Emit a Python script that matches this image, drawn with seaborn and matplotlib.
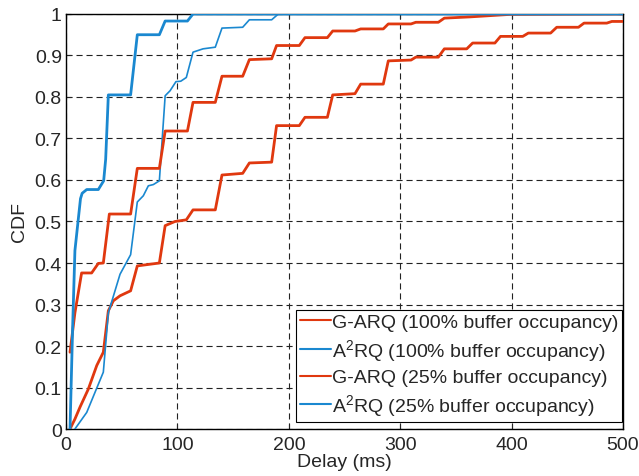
import numpy as np
import pandas as pd
import matplotlib
matplotlib.use("Agg")
import matplotlib.pyplot as plt
from matplotlib.ticker import FormatStrFormatter
import seaborn as sns

# =============================
# DATA
# =============================
garq100_x = [3.6, 8, 12.6, 20, 27.6, 33.5, 38, 42.5, 48.5, 58, 64, 83.8, 89, 97.8, 108, 114,
             134, 140, 158.6, 164.6, 184.6, 189, 209.4, 214.5, 234.6, 239.4, 259.4, 264.5,
             284.8, 289.3, 309.7, 314, 334.2, 339.6, 359.7, 365, 385, 390, 410, 415,
             435, 440.5, 460, 465, 485.4, 490, 500]
garq100_y = [0, 0.024, 0.053, 0.096, 0.153, 0.185, 0.285, 0.309, 0.321, 0.333, 0.393, 0.40,
             0.49, 0.50, 0.504, 0.528, 0.528, 0.612, 0.616, 0.641, 0.643, 0.731, 0.731, 0.751,
             0.751, 0.805, 0.808, 0.831, 0.831, 0.887, 0.889, 0.896, 0.896, 0.916, 0.916, 0.930,
             0.930, 0.946, 0.946, 0.954, 0.954, 0.968, 0.968, 0.978, 0.978, 0.982, 0.982]

a2rq100_x = [8, 18.6, 33.5, 38, 48.5, 58, 64, 69.4, 73.9, 78.4, 83.8, 89, 93.4, 98.7, 103,
             108, 114, 123, 134, 140, 158.6, 164.6, 184.6, 190.6, 500]
a2rq100_y = [0, 0.04, 0.137, 0.28, 0.373, 0.42, 0.547, 0.562, 0.586, 0.589, 0.598, 0.803,
             0.815, 0.837, 0.838, 0.847, 0.908, 0.916, 0.92, 0.966, 0.968, 0.986, 0.986, 1.0, 1.0]

garq25_x = [3.6, 8, 14, 23, 29, 33.5, 38.9, 58, 64, 83.8, 89, 109, 114, 134, 140, 158.6,
            164.6, 184.6, 189, 209.4, 214.5, 234.6, 239.4, 259.4, 264.5, 284.8, 289.3, 309.7,
            314, 334.2, 339.6, 362.7, 398.6, 500]
garq25_y = [0.185, 0.28, 0.376, 0.376, 0.399, 0.4, 0.518, 0.518, 0.628, 0.628, 0.718, 0.718,
            0.787, 0.787, 0.85, 0.85, 0.89, 0.892, 0.924, 0.924, 0.943, 0.943, 0.959, 0.959,
            0.964, 0.964, 0.976, 0.976, 0.98, 0.98, 0.99, 0.993, 0.999, 1.0]

a2rq25_x = [3.6, 6, 8, 13, 14.5, 18.6, 29, 33.8, 35.6, 38, 58, 64, 83.8, 89, 109, 114, 500]
a2rq25_y = [0, 0.25, 0.43, 0.555, 0.568, 0.577, 0.577, 0.598, 0.65, 0.805, 0.805, 0.95, 0.95,
            0.983, 0.983, 1.0, 1.0]

labels = [
    "G-ARQ (100% buffer occupancy)",
    "A$^2$RQ (100% buffer occupancy)",
    "G-ARQ (25% buffer occupancy)",
    "A$^2$RQ (25% buffer occupancy)",
]

RED = "#e0380f"
BLUE = "#1a88d0"

# =============================
# STYLE
# =============================
sns.set_style("ticks")
plt.rcParams["font.family"] = ["Liberation Sans", "DejaVu Sans"]
plt.rcParams["mathtext.default"] = "regular"
plt.rcParams["font.size"] = 14

fig = plt.figure(figsize=(6.39, 4.77), dpi=100)
ax = fig.add_axes([0.1033, 0.0985, 0.8717, 0.8701])

series = [
    (garq100_x, garq100_y, labels[0], RED, 2.0),
    (a2rq100_x, a2rq100_y, labels[1], BLUE, 1.2),
    (garq25_x, garq25_y, labels[2], RED, 2.0),
    (a2rq25_x, a2rq25_y, labels[3], BLUE, 2.0),
]

for xs, ys, lab, col, lw in series:
    df = pd.DataFrame({"delay": xs, "cdf": ys})
    sns.lineplot(data=df, x="delay", y="cdf", ax=ax, color=col, linewidth=lw,
                 label=lab, estimator=None, sort=False, zorder=3)

ax.set_xlim(0, 500)
ax.set_ylim(0, 1)
ax.set_xticks(np.arange(0, 501, 100))
ax.set_yticks(np.arange(0, 1.01, 0.1))
ax.yaxis.set_major_formatter(FormatStrFormatter("%g"))

ax.grid(True, color="#222222", linestyle=(0, (5.5, 3.5)), linewidth=0.8)
ax.set_axisbelow(True)

for sp in ax.spines.values():
    sp.set_visible(True)
    sp.set_color("black")
    sp.set_linewidth(1.0)

ax.tick_params(direction="in", length=3.5, width=0.8, top=True, right=True,
               labelsize=14, pad=3)
ax.tick_params(axis="x", pad=5)

ax.set_xlabel("Delay (ms)", fontsize=14, labelpad=0)
ax.set_ylabel("CDF", fontsize=14, labelpad=5)

leg = ax.legend(loc="lower right", bbox_to_anchor=(0.999, 0.017), fontsize=14,
                frameon=True, fancybox=False, edgecolor="black", framealpha=1,
                handlelength=1.6, handletextpad=0.05, borderpad=0.2,
                labelspacing=0.3, borderaxespad=0.0)
leg.get_frame().set_linewidth(0.8)
for line in leg.get_lines():
    line.set_linewidth(1.5)

fig.savefig("out.png", dpi=100)
